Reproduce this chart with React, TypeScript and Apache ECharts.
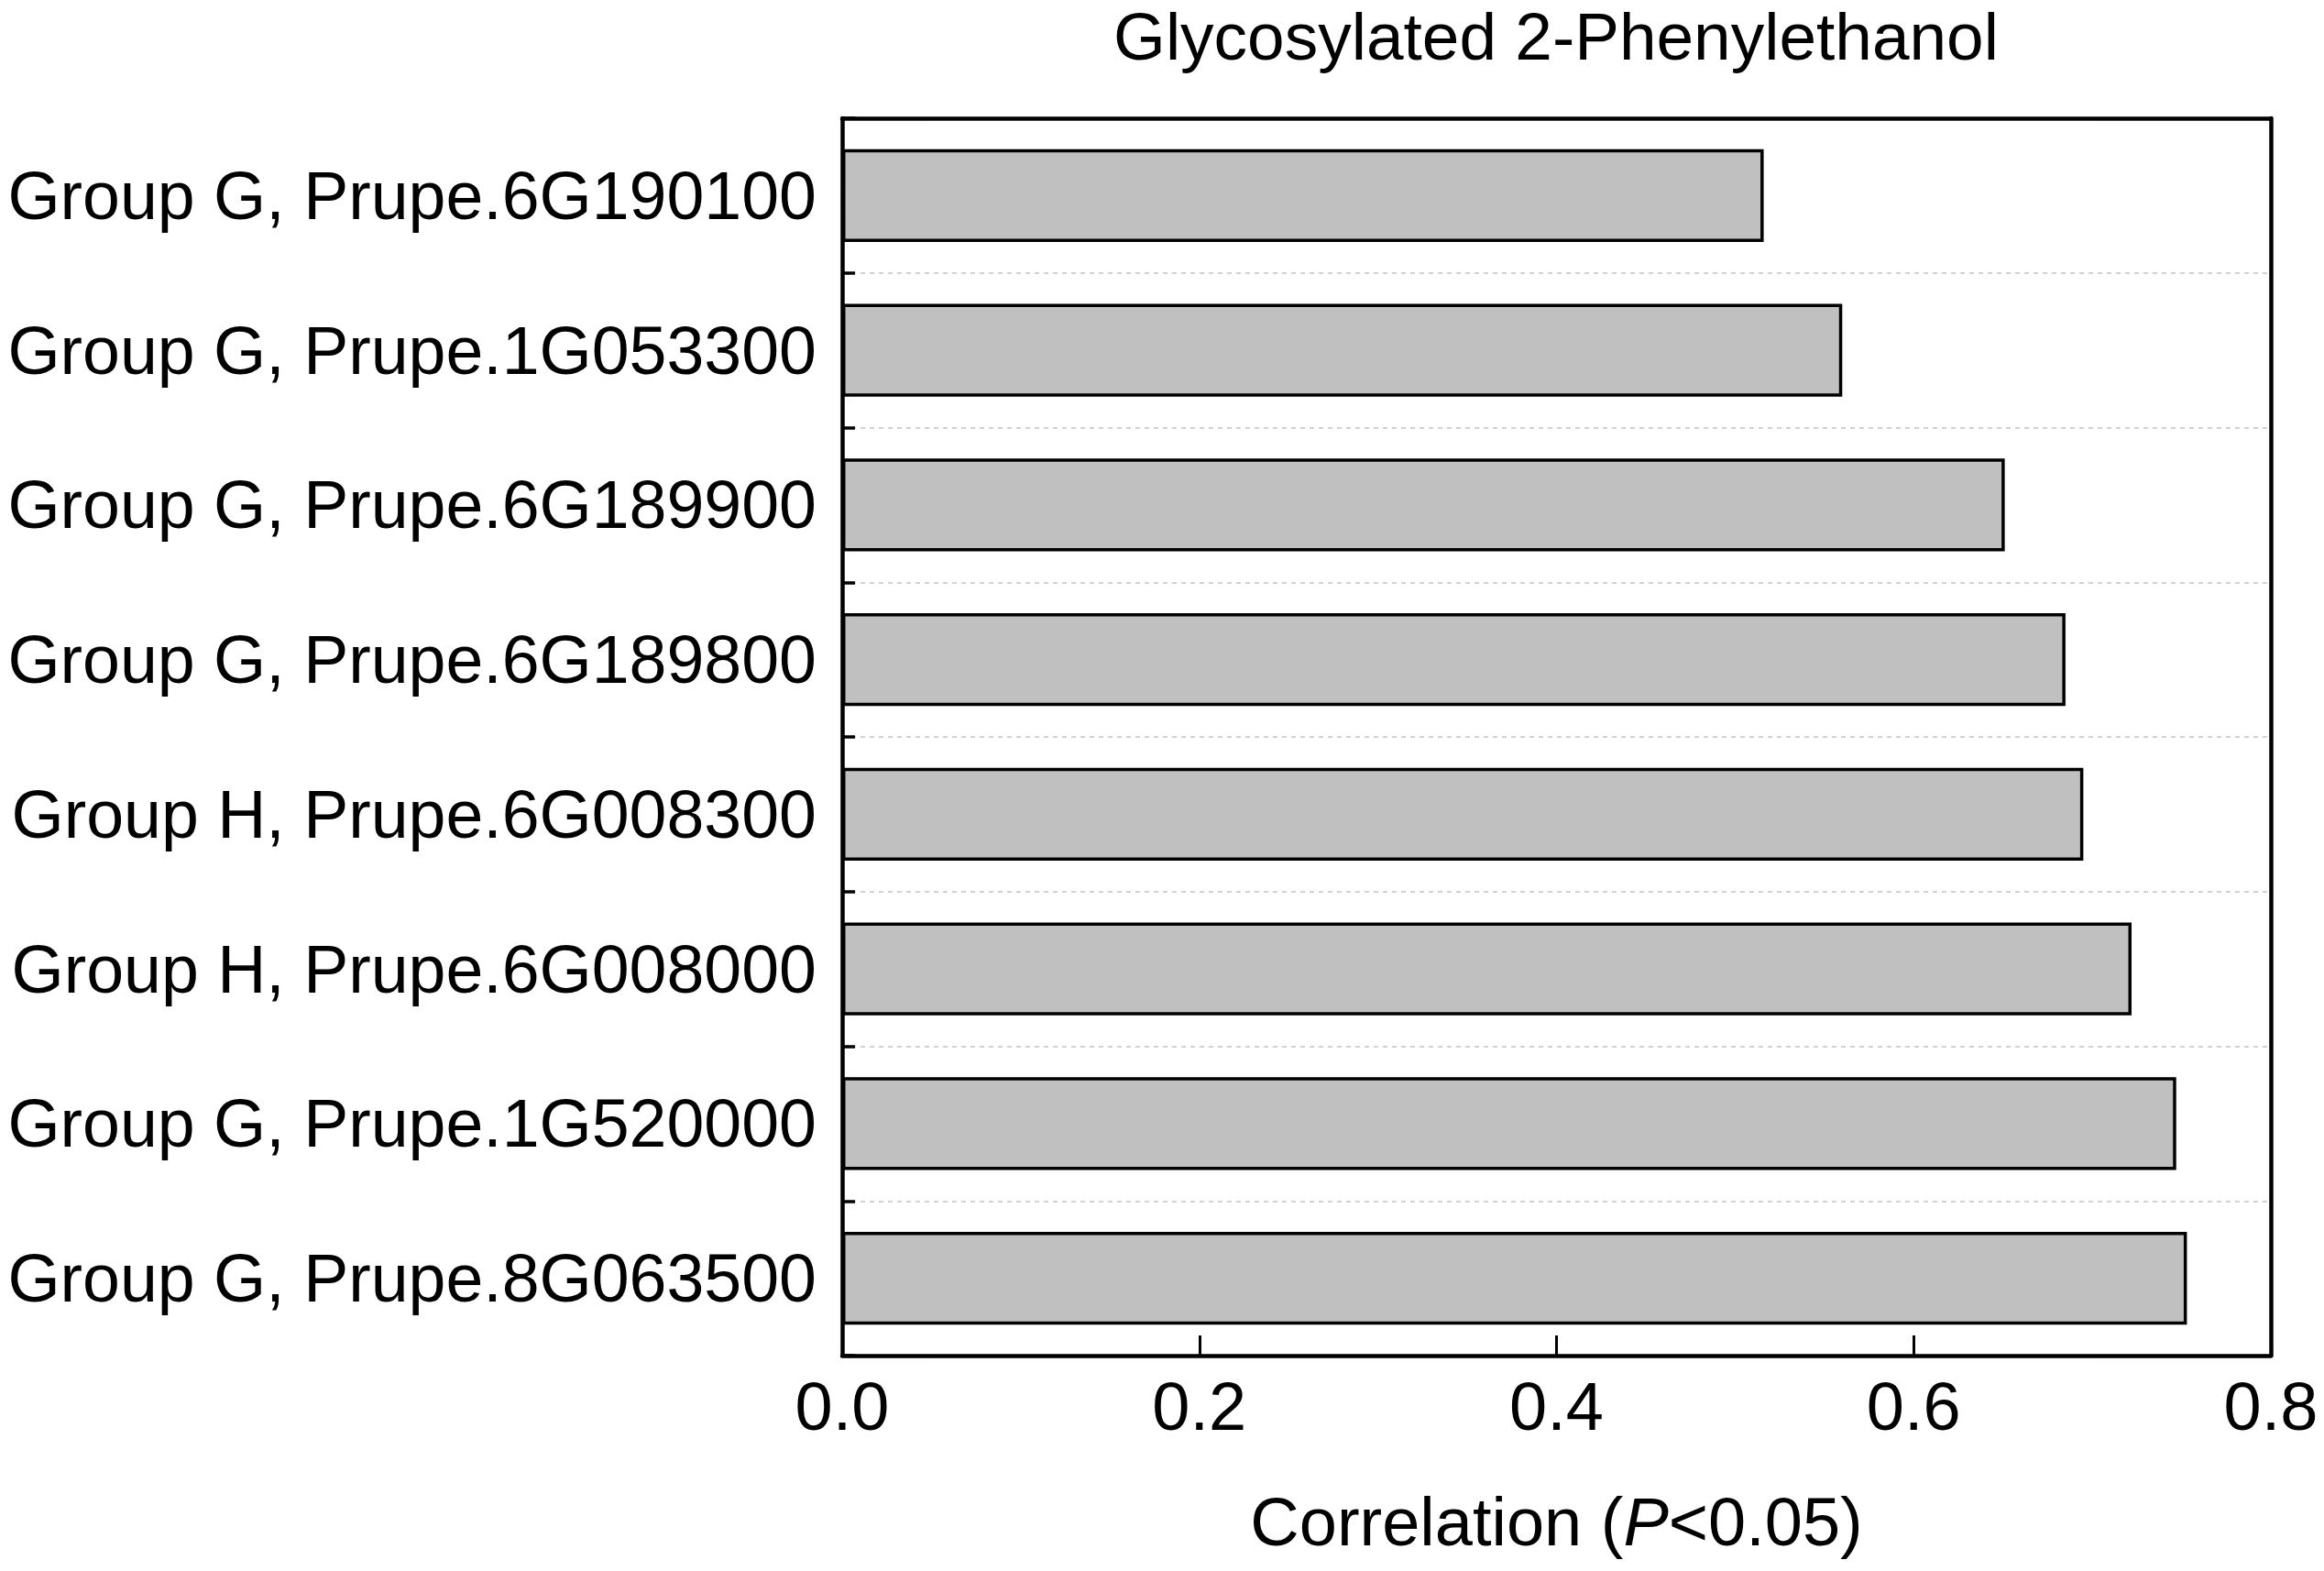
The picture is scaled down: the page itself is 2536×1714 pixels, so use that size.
import React, { useEffect, useRef } from "react";
import * as echarts from "echarts";

const categories = [
  "Group G, Prupe.6G190100",
  "Group G, Prupe.1G053300",
  "Group G, Prupe.6G189900",
  "Group G, Prupe.6G189800",
  "Group H, Prupe.6G008300",
  "Group H, Prupe.6G008000",
  "Group G, Prupe.1G520000",
  "Group G, Prupe.8G063500",
];
const correlations = [0.516, 0.56, 0.651, 0.685, 0.695, 0.722, 0.747, 0.753];
const xMin = 0;
const xMax = 0.8;
const xStep = 0.2;
const chartTitle = "Glycosylated 2-Phenylethanol";
const xAxisName = "Correlation ({i|P}<0.05)";

const FONT = '"Liberation Sans", Arial, sans-serif';

function buildOption() {
  const gridBox = { left: 919, top: 129, right: 58, bottom: 235 };
  return {
    animation: false,
    backgroundColor: "#ffffff",
    grid: [
      { ...gridBox, containLabel: false },
      { ...gridBox, containLabel: false },
    ],
    graphic: [
      {
        type: "text",
        x: 1698,
        y: 39,
        style: {
          text: chartTitle,
          fontSize: 73,
          fontFamily: FONT,
          fill: "#000",
          align: "center",
          verticalAlign: "middle",
        },
      },
    ],
    xAxis: [
      {
        type: "value",
        gridIndex: 0,
        position: "bottom",
        min: xMin,
        max: xMax,
        interval: xStep,
        axisLine: { show: true, lineStyle: { color: "#000", width: 4.5 } },
        axisTick: { show: true, inside: true, length: 22, lineStyle: { color: "#000", width: 3 } },
        axisLabel: {
          show: true,
          margin: 18,
          fontSize: 74,
          fontFamily: FONT,
          color: "#000",
          formatter: (v: number) => v.toFixed(1),
        },
        splitLine: { show: false },
        name: xAxisName,
        nameLocation: "middle",
        nameGap: 144,
        nameTextStyle: {
          fontSize: 74,
          fontFamily: FONT,
          color: "#000",
          rich: {
            i: { fontSize: 74, fontFamily: FONT, color: "#000", fontStyle: "italic" },
          },
        },
      },
      {
        type: "value",
        gridIndex: 1,
        position: "top",
        min: xMin,
        max: xMax,
        interval: xStep,
        axisLine: { show: true, lineStyle: { color: "#000", width: 4.5 } },
        axisTick: { show: false },
        axisLabel: { show: false },
        splitLine: { show: false },
      },
    ],
    yAxis: [
      {
        type: "category",
        gridIndex: 0,
        position: "left",
        data: categories,
        inverse: true,
        axisLine: { show: true, lineStyle: { color: "#000", width: 4.5 } },
        axisTick: { show: true, inside: true, length: 14, lineStyle: { color: "#000", width: 3.5 } },
        axisLabel: { show: false },
        splitLine: {
          show: true,
          showMinLine: false,
          showMaxLine: false,
          lineStyle: { color: "#c4c4c4", width: 1.5, type: [5, 5] },
        },
      },
      {
        type: "category",
        gridIndex: 1,
        position: "left",
        data: categories,
        inverse: true,
        axisLine: { show: false },
        axisTick: {
          show: true,
          inside: true,
          alignWithLabel: true,
          length: 26,
          lineStyle: { color: "#000", width: 3.5 },
        },
        axisLabel: {
          show: true,
          margin: 28,
          fontSize: 73.5,
          fontFamily: FONT,
          color: "#000",
        },
        splitLine: { show: false },
      },
      {
        type: "category",
        gridIndex: 1,
        position: "right",
        data: categories,
        inverse: true,
        axisLine: { show: true, lineStyle: { color: "#000", width: 4.5 } },
        axisTick: { show: false },
        axisLabel: { show: false },
        splitLine: { show: false },
      },
    ],
    series: [
      {
        type: "bar",
        xAxisIndex: 0,
        yAxisIndex: 0,
        data: correlations,
        barCategoryGap: "40%",
        itemStyle: { color: "#c0c0c0", borderColor: "#000", borderWidth: 3.5 },
        silent: true,
      },
    ],
  };
}

export default function App() {
  const ref = useRef<HTMLDivElement>(null);
  useEffect(() => {
    if (!ref.current) return;
    const chart = echarts.init(ref.current, null, { renderer: "svg" });
    chart.setOption(buildOption() as any);
    return () => {
      chart.dispose();
    };
  }, []);
  return (
    <div
      ref={ref}
      style={{ position: "fixed", left: 0, top: 0, width: 2536, height: 1714, background: "#fff" }}
    />
  );
}
